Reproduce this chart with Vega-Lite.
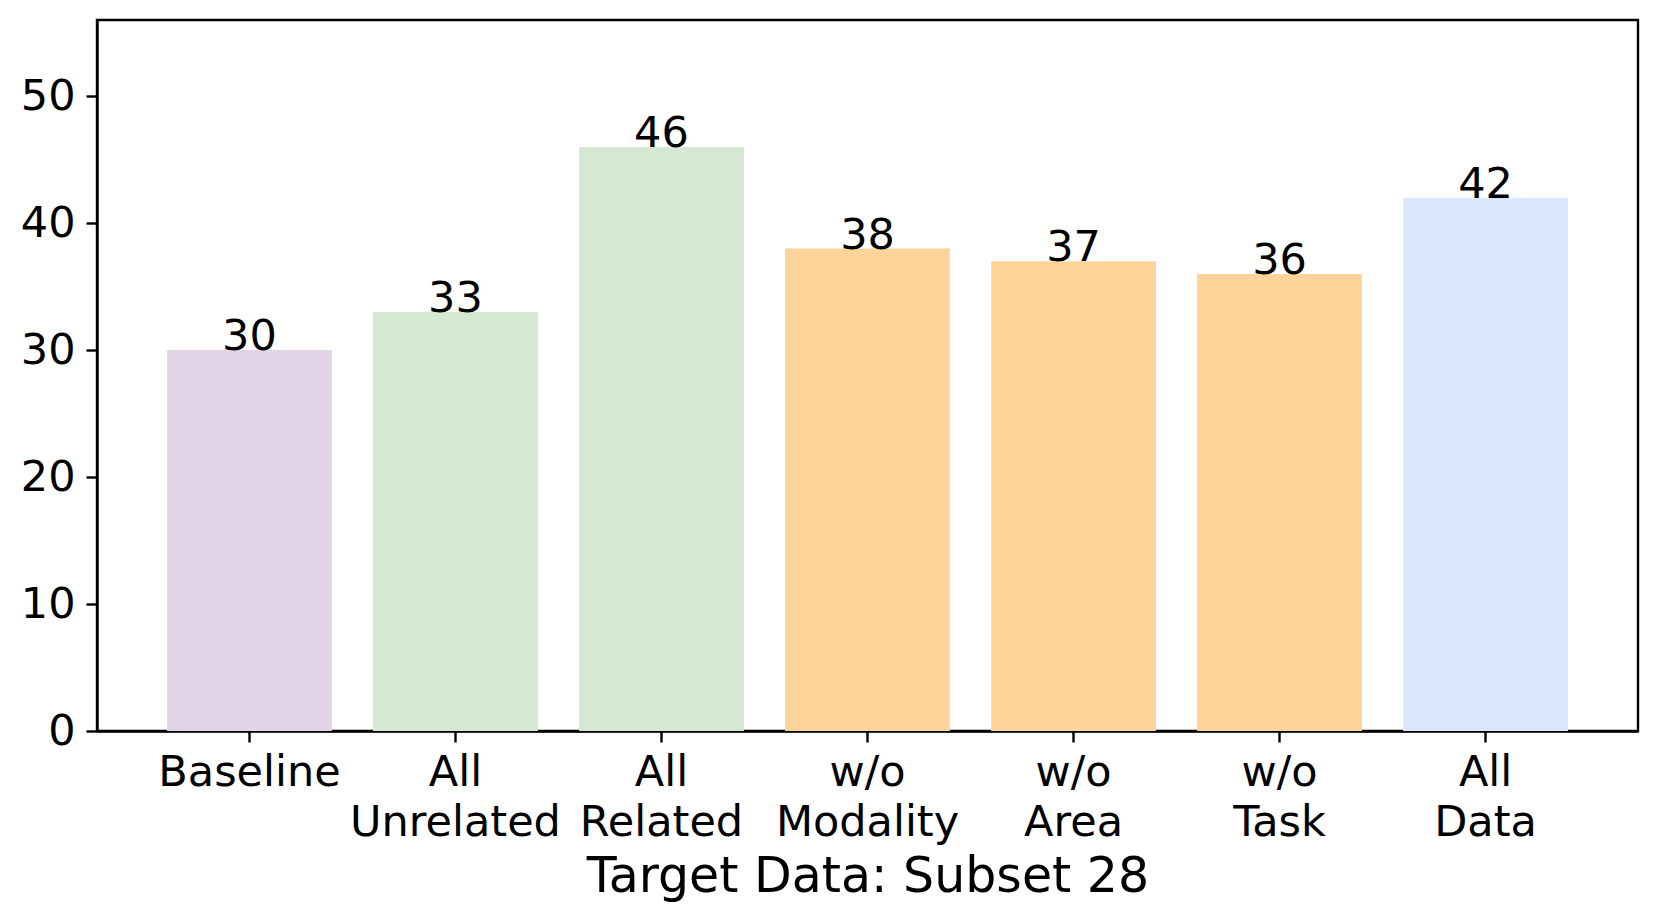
{
  "$schema": "https://vega.github.io/schema/vega-lite/v6.json",
  "autosize": {"type": "none"},
  "width": 1541,
  "height": 711,
  "padding": {"left": 97, "top": 20, "right": 22, "bottom": 193},
  "background": "white",
  "config": {
    "view": {"stroke": "black", "strokeWidth": 2.4},
    "font": "DejaVu Sans",
    "axis": {
      "labelFont": "DejaVu Sans",
      "titleFont": "DejaVu Sans",
      "labelColor": "black",
      "titleColor": "black",
      "domainColor": "black",
      "domainWidth": 2.4,
      "tickColor": "black",
      "tickWidth": 2.4,
      "tickSize": 11,
      "grid": false
    }
  },
  "data": {
    "values": [
      {"label": "Baseline", "group": "base", "value": 30},
      {"label": "All\nUnrelated", "group": "green", "value": 33},
      {"label": "All\nRelated", "group": "green", "value": 46},
      {"label": "w/o\nModality", "group": "orange", "value": 38},
      {"label": "w/o\nArea", "group": "orange", "value": 37},
      {"label": "w/o\nTask", "group": "orange", "value": 36},
      {"label": "All\nData", "group": "blue", "value": 42}
    ]
  },
  "encoding": {
    "x": {
      "field": "label",
      "type": "nominal",
      "sort": null,
      "scale": {"paddingInner": 0.2, "paddingOuter": 0.34},
      "axis": {
        "title": "Target Data: Subset 28",
        "labelAngle": 0,
        "labelFontSize": 43,
        "labelLineHeight": 50,
        "labelPadding": 9,
        "labelBaseline": "top",
        "labelLimit": 1000,
        "labelOverlap": false,
        "labelExpr": "split(datum.label, '\\n')",
        "titleFontSize": 49,
        "titleFontWeight": "normal",
        "titlePadding": 8
      }
    },
    "y": {
      "field": "value",
      "type": "quantitative",
      "scale": {"domain": [0, 56], "nice": false},
      "axis": {
        "title": null,
        "values": [0, 10, 20, 30, 40, 50],
        "labelFontSize": 43,
        "labelPadding": 11
      }
    }
  },
  "layer": [
    {
      "mark": {"type": "bar"},
      "encoding": {
        "color": {
          "field": "group",
          "type": "nominal",
          "scale": {"domain": ["base", "green", "orange", "blue"], "range": ["#e1d5e7", "#d5e8d4", "#fed49a", "#dae8fc"]},
          "legend": null
        }
      }
    },
    {
      "mark": {"type": "text", "baseline": "alphabetic", "align": "center", "fontSize": 43, "font": "DejaVu Sans", "color": "black"},
      "encoding": {"text": {"field": "value", "type": "quantitative"}}
    }
  ]
}
